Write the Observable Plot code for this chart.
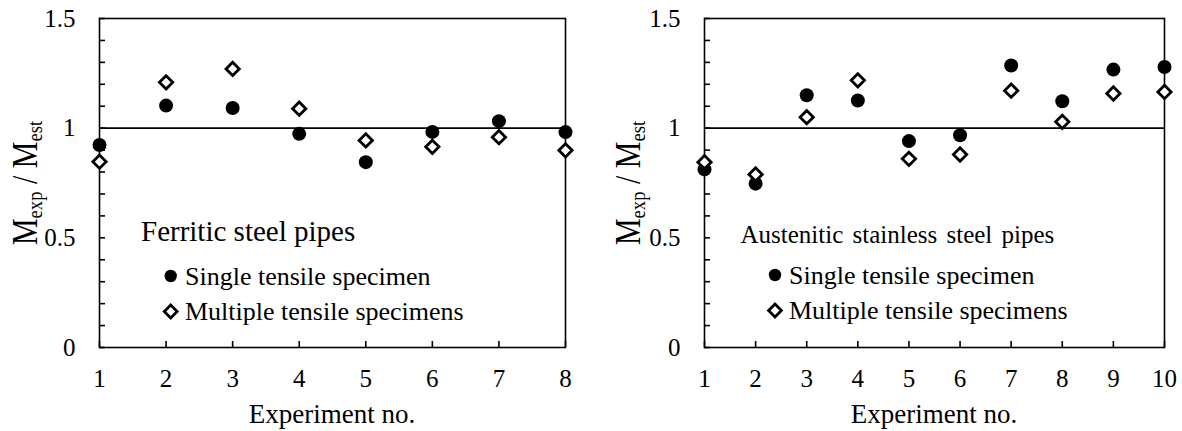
<!DOCTYPE html>
<html><head><meta charset="utf-8">
<script src="https://cdn.jsdelivr.net/npm/d3@7"></script>
<script src="https://cdn.jsdelivr.net/npm/@observablehq/plot@0.6"></script>
<style>
body{margin:0;background:#fff;}
#wrap{position:relative;width:1182px;height:431px;display:flex;}
#wrap svg{display:block;}
</style></head><body><div id="wrap"></div>
<script>
// ---- data ----
const ferriticExp = [1, 2, 3, 4, 5, 6, 7, 8];
const ferriticSingle = [0.923, 1.103, 1.092, 0.974, 0.845, 0.983, 1.032, 0.982];
const ferriticMultiple = [0.847, 1.209, 1.270, 1.089, 0.944, 0.915, 0.959, 0.899];
const austeniticExp = [1, 2, 3, 4, 5, 6, 7, 8, 9, 10];
const austeniticSingle = [0.812, 0.747, 1.150, 1.126, 0.941, 0.968, 1.286, 1.123, 1.267, 1.279];
const austeniticMultiple = [0.845, 0.789, 1.050, 1.218, 0.860, 0.880, 1.171, 1.029, 1.158, 1.165];
const yMinorTicks = [0, 0.1, 0.2, 0.3, 0.4, 0.5, 0.6, 0.7, 0.8, 0.9, 1, 1.1, 1.2, 1.3, 1.4, 1.5];
const yTickValues = [0, 0.5, 1, 1.5];
const yTickLabels = ["0", "0.5", "1", "1.5"];
const referenceLine = [1];
const seriesNames = ["Single tensile specimen", "Multiple tensile specimens"];
const panelTitles = ["Ferritic steel pipes", "Austenitic stainless steel pipes"];
const xLabel = "Experiment no.";

const FONT = "'Liberation Serif', 'Times New Roman', serif";
const HEIGHT = 431, MT = 18, MB = 84, TICK = 6;

function panel({exp, single, multiple, width, marginLeft, marginRight}) {
  const rows = exp.map((e, i) => ({exp: e, single: single[i], multiple: multiple[i]}));
  const plotW = width - marginLeft - marginRight;
  const plotH = HEIGHT - MT - MB;
  return Plot.plot({
    width, height: HEIGHT, marginLeft, marginRight, marginTop: MT, marginBottom: MB,
    style: {fontFamily: FONT, fontSize: "25px", color: "#000", background: "#fff", overflow: "visible"},
    x: {domain: [exp[0], exp[exp.length - 1]]},
    y: {domain: [yTickValues[0], yTickValues[yTickValues.length - 1]]},
    marks: [
      Plot.frame({stroke: "#000", strokeWidth: 1.6}),
      Plot.ruleY(referenceLine, {stroke: "#000", strokeWidth: 1.6}),
      // inward minor ticks
      Plot.tickY(yMinorTicks, {y: d => d, stroke: "#000", strokeWidth: 1.6, insetRight: plotW - TICK}),
      Plot.tickX(exp, {x: d => d, stroke: "#000", strokeWidth: 1.6, insetTop: plotH - TICK}),
      Plot.axisY(yTickValues, {tickSize: 0, tickPadding: 24, tickFormat: d => yTickLabels[yTickValues.indexOf(d)], label: null}),
      Plot.axisX(exp, {tickSize: 0, tickPadding: 22, tickFormat: d => String(d), label: null}),
      Plot.dot(rows, {x: "exp", y: "single", r: 7, fill: "#000", stroke: "none"}),
      Plot.dot(rows, {x: "exp", y: "multiple", r: 6, symbol: "diamond2", fill: "#fff", stroke: "#000", strokeWidth: 2.8})
    ]
  });
}

function annotate(svg, o) {
  const s = d3.select(svg);
  const t = s.append("text")
    .attr("transform", `translate(${o.yLabX},${o.yLabY}) rotate(-90) scale(1,1.18)`)
    .attr("text-anchor", "middle").attr("font-size", 30).attr("fill", "#000")
    .style("white-space", "pre");
  t.append("tspan").text("M");
  t.append("tspan").attr("font-size", 18.6).attr("dy", 4).text("exp");
  t.append("tspan").attr("dy", -4).text(" / M");
  t.append("tspan").attr("font-size", 18.6).attr("dy", 4).text("est");
  s.append("text").attr("x", o.xLabX).attr("y", 423).attr("text-anchor", "middle")
    .attr("font-size", 27).attr("fill", "#000").text(xLabel);
  s.append("text").attr("x", o.titleX).attr("y", o.titleY).attr("font-size", o.titleSize)
    .attr("text-anchor", "start").attr("word-spacing", o.wordSpacing).attr("fill", "#000").text(o.title);
  s.append("circle").attr("cx", o.legX).attr("cy", o.legY1).attr("r", 6.2).attr("fill", "#000");
  s.append("path").attr("d", d3.symbol(d3.symbolDiamond2, 105)()).attr("transform", `translate(${o.legX},${o.legY2})`)
    .attr("fill", "#fff").attr("stroke", "#000").attr("stroke-width", 2.8);
  s.append("text").attr("x", o.legTextX).attr("y", o.legY1 + 9).attr("font-size", 26)
    .attr("text-anchor", "start").attr("fill", "#000").text(seriesNames[0]);
  s.append("text").attr("x", o.legTextX).attr("y", o.legY2 + 8).attr("font-size", 26)
    .attr("text-anchor", "start").attr("fill", "#000").text(seriesNames[1]);
}

const wrap = document.getElementById("wrap");
const left = panel({exp: ferriticExp, single: ferriticSingle, multiple: ferriticMultiple, width: 590, marginLeft: 99, marginRight: 25});
const right = panel({exp: austeniticExp, single: austeniticSingle, multiple: austeniticMultiple, width: 592, marginLeft: 114, marginRight: 18});
wrap.appendChild(left);
wrap.appendChild(right);
annotate(left, {yLabX: 37, yLabY: 183, xLabX: 332, title: panelTitles[0], titleX: 141, titleY: 241, titleSize: 29, wordSpacing: 0,
  legX: 170.7, legY1: 276, legY2: 311.5, legTextX: 185});
annotate(right, {yLabX: 50, yLabY: 183, xLabX: 344, title: panelTitles[1], titleX: 150.5, titleY: 243, titleSize: 25, wordSpacing: 3,
  legX: 185, legY1: 275, legY2: 310.5, legTextX: 199});
</script></body></html>
